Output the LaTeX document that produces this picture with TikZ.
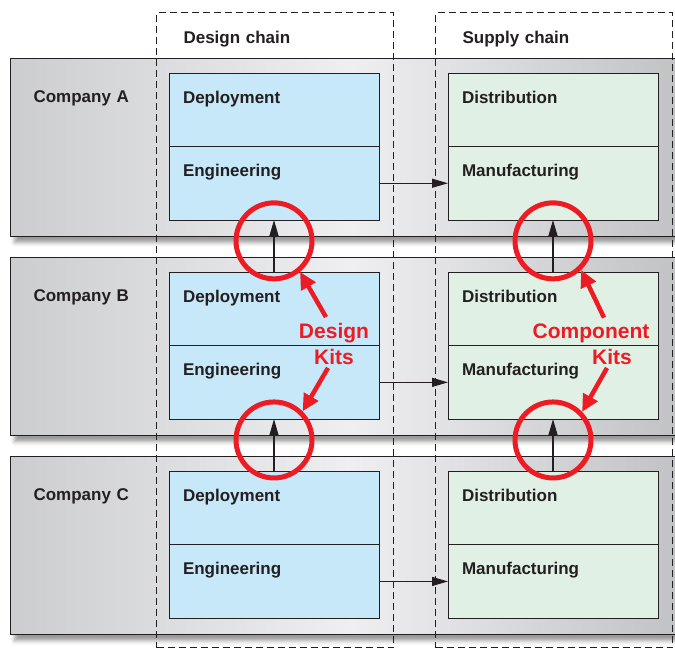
\documentclass[tikz,border=0pt]{standalone}
\usepackage{fontspec}
\setmainfont{Liberation Sans}
\usetikzlibrary{positioning,calc,arrows.meta,shadows.blur}

\definecolor{ink}{RGB}{35,31,32}
\definecolor{bandside}{RGB}{204,205,207}
\definecolor{bandmid}{RGB}{239,239,241}
\definecolor{designblue}{RGB}{199,232,248}
\definecolor{supplygreen}{RGB}{224,240,228}
\definecolor{kitred}{RGB}{237,28,36}

\begin{document}
\begin{tikzpicture}[x=1pt, y=-1pt, text=ink,
    font=\fontsize{17}{20}\selectfont\bfseries,
    band/.style={draw=ink, line width=1.1pt, left color=bandside, right color=bandside!94!black,
      middle color=bandmid, blur shadow={shadow xshift=4pt, shadow yshift=-6pt, shadow blur radius=4pt, shadow opacity=40},
      anchor=north west, align=left, text width=634pt, inner xsep=23pt, inner ysep=0pt,
      text height=44pt, text depth=134pt},
    chain/.style={draw=ink, line width=1.1pt, dash pattern=on 7pt off 4pt,
      anchor=north west, align=left, text width=183pt, inner xsep=27pt, inner ysep=0pt,
      text height=31pt, text depth=604pt},
    box/.style={draw=ink, line width=1pt, outer sep=0pt, anchor=north west, align=left,
      text width=182pt, inner xsep=14pt, inner ysep=0pt, text height=30pt, text depth=43.5pt},
    design/.style={box, fill=designblue},
    supply/.style={box, fill=supplygreen},
    flow/.style={draw=ink, line width=1.1pt, -{Stealth[length=16pt, width=9pt, inset=0pt]}},
    ring/.style={circle, draw=kitred, line width=5pt, minimum size=76pt, inner sep=0pt},
    kit/.style={text=kitred, inner sep=1pt, anchor=base, font=\fontsize{21}{25}\selectfont\bfseries},
    pointer/.style={draw=kitred, line width=4.5pt, -{Triangle[length=17pt, width=16pt]}}]

  \useasboundingbox (0,0) rectangle (675,649);
  \clip (0,0) rectangle (675,649);

  \node[band] (bandA) at (10,58) {Company A};
  \node[band, below=20pt of bandA] (bandB) {Company B};
  \node[band, below=20pt of bandB] (bandC) {Company C};

  \node[chain] (design) at (156,12) {Design chain};
  \node[chain] (supply) at (435,12) {Supply chain};

  \node[design] (depA) at ($(bandA.north west)+(159,15)$) {Deployment};
  \node[design, below=0pt of depA] (engA) {Engineering};
  \node[supply, right=69pt of depA] (disA) {Distribution};
  \node[supply, below=0pt of disA] (manA) {Manufacturing};

  \node[design] (depB) at ($(bandB.north west)+(159,15)$) {Deployment};
  \node[design, below=0pt of depB] (engB) {Engineering};
  \node[supply, right=69pt of depB] (disB) {Distribution};
  \node[supply, below=0pt of disB] (manB) {Manufacturing};

  \node[design] (depC) at ($(bandC.north west)+(159,15)$) {Deployment};
  \node[design, below=0pt of depC] (engC) {Engineering};
  \node[supply, right=69pt of depC] (disC) {Distribution};
  \node[supply, below=0pt of disC] (manC) {Manufacturing};

  \draw[flow] (engA) -- (manA);
  \draw[flow] (engB) -- (manB);
  \draw[flow] (engC) -- (manC);
  \draw[flow] (depB.north) -- (engA.south);
  \draw[flow] (depC.north) -- (engB.south);
  \draw[flow] (disB.north) -- (manA.south);
  \draw[flow] (disC.north) -- (manB.south);

  \node[ring] (ringD1) at ($(engA.south)!.4!(depB.north)$) {};
  \node[ring] (ringD2) at ($(engB.south)!.4!(depC.north)$) {};
  \node[ring] (ringS1) at ($(manA.south)!.4!(disB.north)$) {};
  \node[ring] (ringS2) at ($(manB.south)!.4!(disC.north)$) {};

  \node[kit] (dk1) at (334,338.5) {Design};
  \node[kit] (dk2) at (334,364) {Kits};
  \node[kit] (ck1) at (591,338.5) {Component};
  \node[kit] (ck2) at (612,364) {Kits};

  \draw[pointer] ([xshift=-8pt, yshift=5pt]dk1.north) -- (ringD1.-50);
  \draw[pointer] ([xshift=-6pt, yshift=-2.5pt]dk2.south) -- (ringD2.45);
  \draw[pointer] ([xshift=13pt, yshift=5pt]ck1.north) -- (ringS1.-46);
  \draw[pointer] ([xshift=-5pt, yshift=-2.5pt]ck2.south) -- (ringS2.44);
\end{tikzpicture}
\end{document}
